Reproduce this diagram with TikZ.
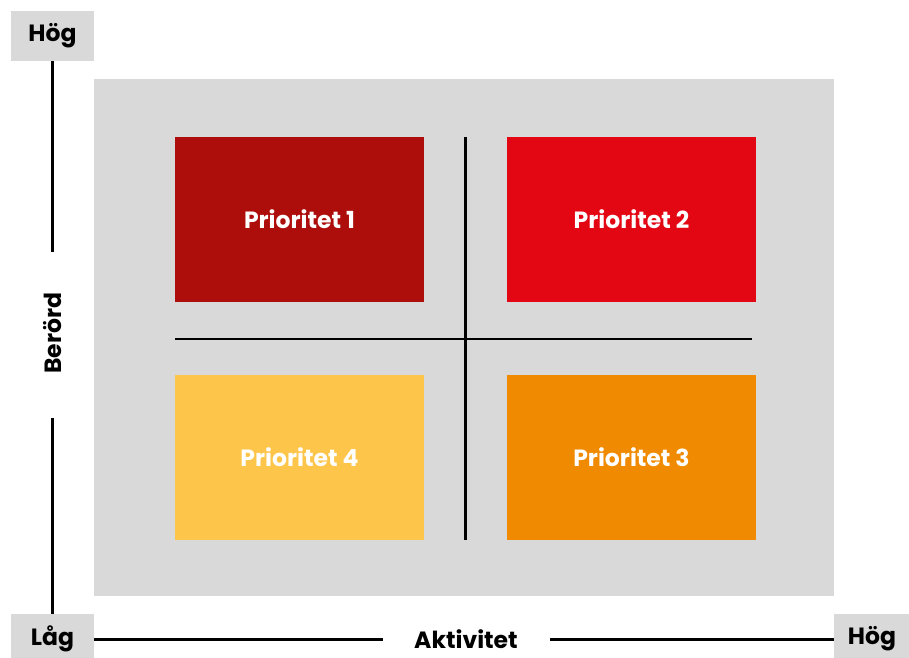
\documentclass[tikz,border=0pt]{standalone}
\usepackage{fontspec}
\setmainfont{Poppins}
\definecolor{bggray}{HTML}{D9D9D9}
\definecolor{pone}{HTML}{AD0E0B}
\definecolor{ptwo}{HTML}{E30613}
\definecolor{pthree}{HTML}{F08A00}
\definecolor{pfour}{HTML}{FDC64A}
\begin{document}
\begin{tikzpicture}[x=1pt,y=-1pt,
  prio/.style={draw=none,minimum width=249pt,minimum height=165pt,inner sep=0pt,
    text=white,font=\fontsize{23.5}{26}\selectfont\bfseries},
  tag/.style={fill=bggray,minimum width=83pt,minimum height=50pt,inner sep=0pt,
    font=\fontsize{23.5}{26}\selectfont\bfseries},
  axis/.style={line width=3pt,black},
  cross/.style={line width=2.8pt,black},
  axlabel/.style={font=\fontsize{23.5}{26}\selectfont\bfseries,inner sep=0pt}]
\useasboundingbox (0,0) rectangle (909,657);
\fill[bggray] (94,79) rectangle (834,596);
\node[prio,fill=pone]   (p1) at (299.5,219.5) {Prioritet 1};
\node[prio,fill=ptwo]   (p2) at (631.5,219.5) {Prioritet 2};
\node[prio,fill=pfour]  (p4) at (299.5,457.5) {Prioritet 4};
\node[prio,fill=pthree] (p3) at (631.5,457.5) {Prioritet 3};
\coordinate (vt) at (465.5,137);
\coordinate (vb) at (465.5,540);
\coordinate (hl) at (175,339);
\coordinate (hr) at (752,339);
\draw[cross] (vt) -- (vb);
\draw[cross] (hl) -- (hr);
\node[tag] (hogy) at (52.5,36) {Hög};
\node[tag] (lag) at (52.5,639) {Låg};
\node[tag,minimum width=76pt] (hogx) at (872,639) {Hög};
\node[axlabel,rotate=90] (berord) at (53,333) {Berörd};
\node[axlabel] (akt) at (466,639) {Aktivitet};
\coordinate (b1) at (52.5,252);
\coordinate (b2) at (52.5,418);
\coordinate (a1) at (383,639);
\coordinate (a2) at (550,639);
\draw[axis] (hogy.south) -- (b1);
\draw[axis] (b2) -- (lag.north);
\draw[axis] (lag.east) -- (a1);
\draw[axis] (a2) -- (hogx.west);
\end{tikzpicture}
\end{document}
